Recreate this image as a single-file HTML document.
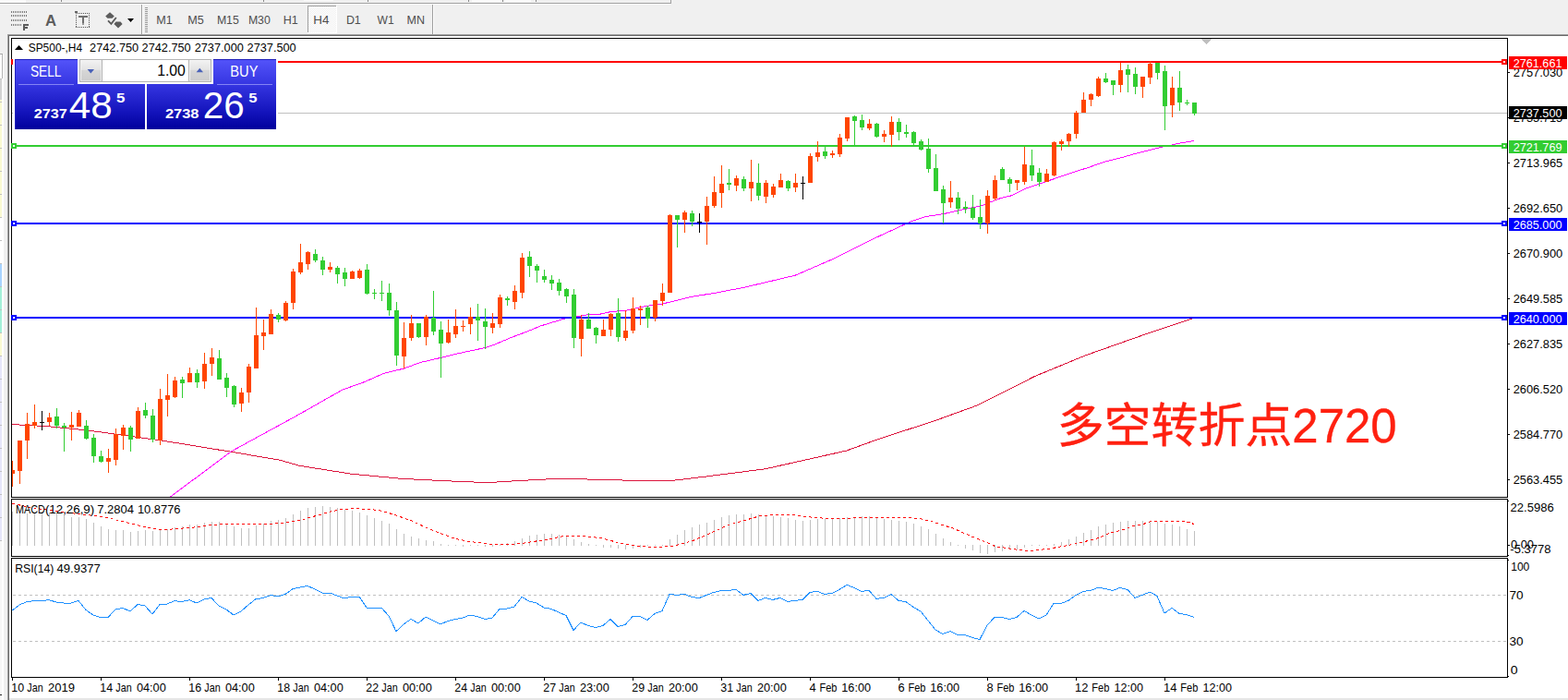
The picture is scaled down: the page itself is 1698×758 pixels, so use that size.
<!DOCTYPE html>
<html><head><meta charset="utf-8"><title>SP500 H4</title>
<style>html,body{margin:0;padding:0;background:#fff;overflow:hidden}svg text{font-family:"Liberation Sans",sans-serif}</style></head>
<body>
<svg width="1698" height="758" viewBox="0 0 1698 758" font-family="&quot;Liberation Sans&quot;, sans-serif" style="display:block">
<rect x="0" y="0" width="1698" height="758" fill="#fff"/>
<g shape-rendering="crispEdges">
<rect x="0" y="0" width="1698" height="37" fill="#f0f0f0"/>
<rect x="0" y="3" width="727" height="1" fill="#a0a0a0"/>
<rect x="0" y="4" width="726" height="1" fill="#fdfdfd"/>
<rect x="726" y="0" width="1" height="3" fill="#a0a0a0"/>
<rect x="0" y="0" width="28" height="3" fill="#fafafa"/>
<rect x="329" y="0" width="32" height="1" fill="#fafafa"/>
<rect x="511" y="0" width="31" height="2" fill="#fafafa"/>
<rect x="547" y="0" width="28" height="2" fill="#fafafa"/>
<rect x="66" y="0" width="1" height="2" fill="#888"/>
<rect x="285" y="0" width="1" height="2" fill="#888"/>
<rect x="398" y="0" width="1" height="2" fill="#888"/>
<rect x="507" y="0" width="1" height="2" fill="#888"/>
<rect x="544" y="0" width="1" height="2" fill="#888"/>
<rect x="580" y="0" width="1" height="2" fill="#888"/>
<rect x="153" y="5" width="1" height="32" fill="#a0a0a0"/>
<rect x="154" y="5" width="1" height="32" fill="#fff"/>
<rect x="468" y="5" width="1" height="32" fill="#a0a0a0"/>
<rect x="469" y="5" width="1" height="32" fill="#fff"/>
<rect x="157" y="8" width="3" height="1" fill="#9a9a9a"/>
<rect x="157" y="10" width="3" height="1" fill="#9a9a9a"/>
<rect x="157" y="12" width="3" height="1" fill="#9a9a9a"/>
<rect x="157" y="14" width="3" height="1" fill="#9a9a9a"/>
<rect x="157" y="16" width="3" height="1" fill="#9a9a9a"/>
<rect x="157" y="18" width="3" height="1" fill="#9a9a9a"/>
<rect x="157" y="20" width="3" height="1" fill="#9a9a9a"/>
<rect x="157" y="22" width="3" height="1" fill="#9a9a9a"/>
<rect x="157" y="24" width="3" height="1" fill="#9a9a9a"/>
<rect x="157" y="26" width="3" height="1" fill="#9a9a9a"/>
<rect x="157" y="28" width="3" height="1" fill="#9a9a9a"/>
<rect x="157" y="30" width="3" height="1" fill="#9a9a9a"/>
<rect x="157" y="32" width="3" height="1" fill="#9a9a9a"/>
<rect x="157" y="34" width="3" height="1" fill="#9a9a9a"/>
<pattern id="dz" width="2" height="2" patternUnits="userSpaceOnUse"><rect width="2" height="2" fill="#fff"/><rect width="1" height="1" fill="#f0f0f0"/><rect x="1" y="1" width="1" height="1" fill="#f0f0f0"/></pattern>
<rect x="333" y="6" width="31" height="29" fill="url(#dz)"/>
<rect x="333" y="6" width="31" height="1" fill="#a0a0a0"/>
<rect x="333" y="6" width="1" height="29" fill="#a0a0a0"/>
<rect x="364" y="6" width="1" height="30" fill="#fff"/>
<rect x="333" y="35" width="32" height="1" fill="#fff"/>
<rect x="0" y="37" width="8" height="721" fill="#f0f0f0"/>
<rect x="8" y="37" width="1690" height="1" fill="#a0a0a0"/>
<rect x="9" y="38" width="1689" height="1" fill="#696969"/>
<rect x="8" y="37" width="1" height="721" fill="#a0a0a0"/>
<rect x="9" y="38" width="1" height="720" fill="#696969"/>
<rect x="2" y="58" width="2" height="700" fill="#fff"/>
<rect x="0" y="59" width="2" height="26" fill="#fdfdfd"/>
<rect x="0" y="85" width="2" height="23" fill="#d3d3d3"/>
<rect x="0" y="108" width="2" height="127" fill="#fafad2"/>
<rect x="0" y="235" width="2" height="50" fill="#ffffff"/>
<rect x="0" y="285" width="2" height="25" fill="#a8d4ff"/>
<rect x="0" y="310" width="2" height="50" fill="#a4f0d8"/>
<rect x="0" y="360" width="2" height="25" fill="#fafad2"/>
<rect x="0" y="385" width="2" height="200" fill="#e6e6fa"/>
<rect x="0" y="585" width="2" height="173" fill="#f7f7f7"/>
<rect x="0" y="85" width="2" height="1" fill="#c0c0c0"/>
<rect x="0" y="110" width="2" height="1" fill="#c0c0c0"/>
<rect x="0" y="135" width="2" height="1" fill="#c0c0c0"/>
<rect x="0" y="160" width="2" height="1" fill="#c0c0c0"/>
<rect x="0" y="185" width="2" height="1" fill="#c0c0c0"/>
<rect x="0" y="210" width="2" height="1" fill="#c0c0c0"/>
<rect x="0" y="235" width="2" height="1" fill="#c0c0c0"/>
<rect x="0" y="260" width="2" height="1" fill="#c0c0c0"/>
<rect x="0" y="285" width="2" height="1" fill="#c0c0c0"/>
<rect x="0" y="310" width="2" height="1" fill="#c0c0c0"/>
<rect x="0" y="335" width="2" height="1" fill="#c0c0c0"/>
<rect x="0" y="360" width="2" height="1" fill="#c0c0c0"/>
<rect x="0" y="385" width="2" height="1" fill="#c0c0c0"/>
<rect x="0" y="410" width="2" height="1" fill="#c0c0c0"/>
<rect x="0" y="435" width="2" height="1" fill="#c0c0c0"/>
<rect x="0" y="460" width="2" height="1" fill="#c0c0c0"/>
<rect x="0" y="485" width="2" height="1" fill="#c0c0c0"/>
<rect x="0" y="510" width="2" height="1" fill="#c0c0c0"/>
<rect x="0" y="535" width="2" height="1" fill="#c0c0c0"/>
<rect x="0" y="560" width="2" height="1" fill="#c0c0c0"/>
<rect x="0" y="585" width="2" height="1" fill="#c0c0c0"/>
<rect x="0" y="58" width="3" height="1" fill="#a8a8a8"/>
<rect x="2" y="59" width="1" height="26" fill="#b4b4b4"/>
<rect x="0" y="752" width="2" height="1" fill="#222"/>
<rect x="10" y="756" width="1688" height="2" fill="#e6e6e6"/>
<rect x="12" y="41" width="1621" height="1" fill="#000"/>
<rect x="12" y="538" width="1621" height="1" fill="#000"/>
<rect x="12" y="41" width="1" height="498" fill="#000"/>
<rect x="1632" y="41" width="1" height="498" fill="#000"/>
<rect x="12" y="540" width="1621" height="1" fill="#000"/>
<rect x="12" y="602" width="1621" height="1" fill="#000"/>
<rect x="12" y="540" width="1" height="63" fill="#000"/>
<rect x="1632" y="540" width="1" height="63" fill="#000"/>
<rect x="12" y="604" width="1621" height="1" fill="#000"/>
<rect x="12" y="733" width="1621" height="1" fill="#000"/>
<rect x="12" y="604" width="1" height="130" fill="#000"/>
<rect x="1632" y="604" width="1" height="130" fill="#000"/>
<rect x="1301" y="42" width="11" height="1" fill="#c0c0c0"/>
<rect x="1302" y="43" width="9" height="1" fill="#c0c0c0"/>
<rect x="1303" y="44" width="7" height="1" fill="#c0c0c0"/>
<rect x="1304" y="45" width="5" height="1" fill="#c0c0c0"/>
<rect x="1305" y="46" width="3" height="1" fill="#c0c0c0"/>
<rect x="1306" y="47" width="1" height="1" fill="#c0c0c0"/>
</g>
<text x="169.3" y="26.3" font-size="12.7" fill="#4e4e4e" textLength="17.5" lengthAdjust="spacingAndGlyphs">M1</text>
<text x="203.3" y="26.3" font-size="12.7" fill="#4e4e4e" textLength="17.5" lengthAdjust="spacingAndGlyphs">M5</text>
<text x="234.9" y="26.3" font-size="12.7" fill="#4e4e4e" textLength="23.9" lengthAdjust="spacingAndGlyphs">M15</text>
<text x="268.9" y="26.3" font-size="12.7" fill="#4e4e4e" textLength="23.9" lengthAdjust="spacingAndGlyphs">M30</text>
<text x="306.8" y="26.3" font-size="12.7" fill="#4e4e4e" textLength="16.0" lengthAdjust="spacingAndGlyphs">H1</text>
<text x="339.3" y="26.3" font-size="12.7" fill="#4e4e4e" textLength="17.1" lengthAdjust="spacingAndGlyphs">H4</text>
<text x="374.9" y="26.3" font-size="12.7" fill="#4e4e4e" textLength="15.9" lengthAdjust="spacingAndGlyphs">D1</text>
<text x="408.6" y="26.3" font-size="12.7" fill="#4e4e4e" textLength="18.1" lengthAdjust="spacingAndGlyphs">W1</text>
<text x="440.5" y="26.3" font-size="12.7" fill="#4e4e4e" textLength="19.5" lengthAdjust="spacingAndGlyphs">MN</text>
<g shape-rendering="crispEdges">
<rect x="12" y="12" width="1" height="2" fill="#7c7c7c"/>
<rect x="14" y="12" width="1" height="2" fill="#7c7c7c"/>
<rect x="16" y="12" width="1" height="2" fill="#7c7c7c"/>
<rect x="18" y="12" width="1" height="2" fill="#7c7c7c"/>
<rect x="20" y="12" width="1" height="2" fill="#7c7c7c"/>
<rect x="22" y="12" width="1" height="2" fill="#7c7c7c"/>
<rect x="24" y="12" width="1" height="2" fill="#7c7c7c"/>
<rect x="26" y="12" width="1" height="2" fill="#7c7c7c"/>
<rect x="28" y="12" width="1" height="2" fill="#7c7c7c"/>
<rect x="12" y="16" width="1" height="2" fill="#7c7c7c"/>
<rect x="14" y="16" width="1" height="2" fill="#7c7c7c"/>
<rect x="16" y="16" width="1" height="2" fill="#7c7c7c"/>
<rect x="18" y="16" width="1" height="2" fill="#7c7c7c"/>
<rect x="20" y="16" width="1" height="2" fill="#7c7c7c"/>
<rect x="22" y="16" width="1" height="2" fill="#7c7c7c"/>
<rect x="24" y="16" width="1" height="2" fill="#7c7c7c"/>
<rect x="26" y="16" width="1" height="2" fill="#7c7c7c"/>
<rect x="28" y="16" width="1" height="2" fill="#7c7c7c"/>
<rect x="12" y="21" width="1" height="2" fill="#7c7c7c"/>
<rect x="14" y="21" width="1" height="2" fill="#7c7c7c"/>
<rect x="16" y="21" width="1" height="2" fill="#7c7c7c"/>
<rect x="18" y="21" width="1" height="2" fill="#7c7c7c"/>
<rect x="20" y="21" width="1" height="2" fill="#7c7c7c"/>
<rect x="22" y="21" width="1" height="2" fill="#7c7c7c"/>
<rect x="24" y="21" width="1" height="2" fill="#7c7c7c"/>
<rect x="26" y="21" width="1" height="2" fill="#7c7c7c"/>
<rect x="28" y="21" width="1" height="2" fill="#7c7c7c"/>
<rect x="12" y="26" width="1" height="2" fill="#7c7c7c"/>
<rect x="14" y="26" width="1" height="2" fill="#7c7c7c"/>
<rect x="16" y="26" width="1" height="2" fill="#7c7c7c"/>
<rect x="18" y="26" width="1" height="2" fill="#7c7c7c"/>
<rect x="20" y="26" width="1" height="2" fill="#7c7c7c"/>
<rect x="22" y="26" width="1" height="2" fill="#7c7c7c"/>
<rect x="25" y="26" width="2" height="7" fill="#5c5c5c"/>
<rect x="25" y="26" width="6" height="2" fill="#5c5c5c"/>
<rect x="25" y="29" width="5" height="2" fill="#5c5c5c"/>
</g>
<text x="49.0" y="27.6" font-size="15.6" fill="#5c5c5c" textLength="12.1" lengthAdjust="spacingAndGlyphs" font-weight="bold">A</text>
<g shape-rendering="crispEdges">
<rect x="82" y="14" width="1" height="1" fill="#555"/>
<rect x="82" y="29" width="1" height="1" fill="#555"/>
<rect x="84" y="14" width="1" height="1" fill="#555"/>
<rect x="84" y="29" width="1" height="1" fill="#555"/>
<rect x="86" y="14" width="1" height="1" fill="#555"/>
<rect x="86" y="29" width="1" height="1" fill="#555"/>
<rect x="88" y="14" width="1" height="1" fill="#555"/>
<rect x="88" y="29" width="1" height="1" fill="#555"/>
<rect x="90" y="14" width="1" height="1" fill="#555"/>
<rect x="90" y="29" width="1" height="1" fill="#555"/>
<rect x="92" y="14" width="1" height="1" fill="#555"/>
<rect x="92" y="29" width="1" height="1" fill="#555"/>
<rect x="94" y="14" width="1" height="1" fill="#555"/>
<rect x="94" y="29" width="1" height="1" fill="#555"/>
<rect x="96" y="14" width="1" height="1" fill="#555"/>
<rect x="96" y="29" width="1" height="1" fill="#555"/>
<rect x="82" y="14" width="1" height="1" fill="#555"/>
<rect x="96" y="14" width="1" height="1" fill="#555"/>
<rect x="82" y="16" width="1" height="1" fill="#555"/>
<rect x="96" y="16" width="1" height="1" fill="#555"/>
<rect x="82" y="18" width="1" height="1" fill="#555"/>
<rect x="96" y="18" width="1" height="1" fill="#555"/>
<rect x="82" y="20" width="1" height="1" fill="#555"/>
<rect x="96" y="20" width="1" height="1" fill="#555"/>
<rect x="82" y="22" width="1" height="1" fill="#555"/>
<rect x="96" y="22" width="1" height="1" fill="#555"/>
<rect x="82" y="24" width="1" height="1" fill="#555"/>
<rect x="96" y="24" width="1" height="1" fill="#555"/>
<rect x="82" y="26" width="1" height="1" fill="#555"/>
<rect x="96" y="26" width="1" height="1" fill="#555"/>
<rect x="82" y="28" width="1" height="1" fill="#555"/>
<rect x="96" y="28" width="1" height="1" fill="#555"/>
<rect x="85" y="17" width="10" height="2" fill="#707070"/>
<rect x="89" y="17" width="2" height="8" fill="#707070"/>
<rect x="89" y="25" width="2" height="2" fill="#9a9a9a"/>
<rect x="81" y="12" width="3" height="2" fill="#666"/>
</g>
<path d="M119 13.2 L123.8 17.6 L121.6 19.8 L116.4 19.8 L114.2 17.6 Z M128 30.4 L123.4 26 L125.5 23.6 L130.5 23.6 L132.6 26 Z" fill="#5c5c5c"/>
<path d="M117 22.4 L120.4 25.8 L125.8 19" fill="none" stroke="#5c5c5c" stroke-width="1.9"/>
<path d="M138 20 L145 20 L141.5 24 Z" fill="#000"/>
<clipPath id="cm"><rect x="13" y="42" width="1619" height="496"/></clipPath>
<g clip-path="url(#cm)">
<path d="M13.0 459.6 L50.0 461.5 L95.0 466.0 L177.0 477.3 L250.0 489.2 L303.0 498.2 L324.2 504.3 L379.9 513.1 L435.5 518.4 L488.5 521.0 L515.0 522.1 L536.2 522.1 L562.7 520.5 L602.5 518.4 L658.2 519.4 L700.0 521.0 L726.5 520.6 L763.0 516.2 L828.7 507.8 L916.4 488.1 L952.9 474.9 L1011.3 456.0 L1058.7 438.8 L1120.8 407.4 L1175.6 384.8 L1237.7 362.9 L1292.4 344.6" fill="none" stroke="#dc143c" stroke-width="1" shape-rendering="crispEdges"/>
<path d="M184.5 538.0 L250.0 489.2 L258.8 484.2 L313.0 454.7 L321.6 450.0 L371.0 422.0 L395.0 413.5 L414.8 404.6 L437.6 399.0 L454.4 392.7 L477.1 387.4 L497.9 382.4 L525.6 376.5 L533.6 373.9 L553.4 365.6 L573.1 358.1 L585.0 353.1 L610.8 345.2 L628.6 342.2 L637.5 340.6 L648.7 340.4 L661.4 337.6 L680.4 335.9 L698.3 331.6 L717.3 329.0 L730.0 326.0 L751.0 320.9 L772.2 317.7 L806.0 311.2 L861.1 298.2 L905.0 279.2 L943.2 259.8 L971.9 246.6 L985.7 240.2 L1001.6 234.7 L1021.4 231.7 L1043.1 226.8 L1062.9 222.8 L1082.7 214.9 L1095.0 211.9 L1112.0 203.6 L1134.1 196.2 L1158.1 187.9 L1178.5 181.4 L1196.9 175.0 L1215.4 170.4 L1232.0 165.7 L1259.7 158.9 L1278.2 155.0 L1293.0 152.4" fill="none" stroke="#ff00ff" stroke-width="1" shape-rendering="crispEdges"/>
<g shape-rendering="crispEdges">
<rect x="13" y="122" width="1619" height="1" fill="#c0c0c0"/>
<rect x="13" y="66" width="1619" height="2" fill="#ff0000"/>
<rect x="13" y="157" width="1619" height="2" fill="#32cd32"/>
<rect x="13" y="241" width="1619" height="2" fill="#0000ff"/>
<rect x="13" y="343" width="1619" height="2" fill="#0000ff"/>
<rect x="13" y="499" width="1" height="28" fill="#ff4500"/>
<rect x="11" y="509" width="5" height="4" fill="#ff4500"/>
<rect x="21" y="477" width="1" height="47" fill="#ff4500"/>
<rect x="19" y="477" width="5" height="33" fill="#ff4500"/>
<rect x="29" y="447" width="1" height="50" fill="#ff4500"/>
<rect x="27" y="459" width="5" height="18" fill="#ff4500"/>
<rect x="37" y="438" width="1" height="26" fill="#ff4500"/>
<rect x="35" y="457" width="5" height="4" fill="#ff4500"/>
<rect x="45" y="445" width="1" height="21" fill="#000"/>
<rect x="43" y="457" width="5" height="1" fill="#000"/>
<rect x="53" y="447" width="1" height="14" fill="#ff4500"/>
<rect x="51" y="452" width="5" height="5" fill="#ff4500"/>
<rect x="61" y="442" width="1" height="22" fill="#32cd32"/>
<rect x="59" y="451" width="5" height="10" fill="#32cd32"/>
<rect x="69" y="458" width="1" height="31" fill="#32cd32"/>
<rect x="67" y="461" width="5" height="2" fill="#32cd32"/>
<rect x="77" y="446" width="1" height="31" fill="#ff4500"/>
<rect x="75" y="460" width="5" height="3" fill="#ff4500"/>
<rect x="85" y="444" width="1" height="18" fill="#ff4500"/>
<rect x="83" y="447" width="5" height="15" fill="#ff4500"/>
<rect x="93" y="455" width="1" height="21" fill="#32cd32"/>
<rect x="91" y="461" width="5" height="14" fill="#32cd32"/>
<rect x="101" y="470" width="1" height="31" fill="#32cd32"/>
<rect x="99" y="474" width="5" height="20" fill="#32cd32"/>
<rect x="109" y="488" width="1" height="13" fill="#32cd32"/>
<rect x="107" y="494" width="5" height="6" fill="#32cd32"/>
<rect x="117" y="486" width="1" height="26" fill="#ff4500"/>
<rect x="115" y="496" width="5" height="4" fill="#ff4500"/>
<rect x="125" y="464" width="1" height="40" fill="#ff4500"/>
<rect x="123" y="470" width="5" height="28" fill="#ff4500"/>
<rect x="133" y="460" width="1" height="27" fill="#ff4500"/>
<rect x="131" y="463" width="5" height="9" fill="#ff4500"/>
<rect x="141" y="461" width="1" height="28" fill="#32cd32"/>
<rect x="139" y="463" width="5" height="13" fill="#32cd32"/>
<rect x="149" y="441" width="1" height="34" fill="#ff4500"/>
<rect x="147" y="445" width="5" height="30" fill="#ff4500"/>
<rect x="157" y="436" width="1" height="17" fill="#32cd32"/>
<rect x="155" y="444" width="5" height="6" fill="#32cd32"/>
<rect x="165" y="443" width="1" height="36" fill="#32cd32"/>
<rect x="163" y="450" width="5" height="26" fill="#32cd32"/>
<rect x="173" y="421" width="1" height="61" fill="#ff4500"/>
<rect x="171" y="432" width="5" height="45" fill="#ff4500"/>
<rect x="181" y="405" width="1" height="46" fill="#ff4500"/>
<rect x="179" y="428" width="5" height="5" fill="#ff4500"/>
<rect x="189" y="408" width="1" height="23" fill="#ff4500"/>
<rect x="187" y="412" width="5" height="18" fill="#ff4500"/>
<rect x="197" y="408" width="1" height="23" fill="#32cd32"/>
<rect x="195" y="411" width="5" height="4" fill="#32cd32"/>
<rect x="205" y="398" width="1" height="16" fill="#ff4500"/>
<rect x="203" y="404" width="5" height="10" fill="#ff4500"/>
<rect x="213" y="400" width="1" height="20" fill="#32cd32"/>
<rect x="211" y="404" width="5" height="10" fill="#32cd32"/>
<rect x="221" y="382" width="1" height="39" fill="#ff4500"/>
<rect x="219" y="394" width="5" height="19" fill="#ff4500"/>
<rect x="229" y="377" width="1" height="30" fill="#ff4500"/>
<rect x="227" y="387" width="5" height="7" fill="#ff4500"/>
<rect x="237" y="379" width="1" height="32" fill="#32cd32"/>
<rect x="235" y="388" width="5" height="23" fill="#32cd32"/>
<rect x="245" y="404" width="1" height="26" fill="#32cd32"/>
<rect x="243" y="409" width="5" height="11" fill="#32cd32"/>
<rect x="253" y="417" width="1" height="24" fill="#32cd32"/>
<rect x="251" y="418" width="5" height="20" fill="#32cd32"/>
<rect x="261" y="420" width="1" height="26" fill="#ff4500"/>
<rect x="259" y="425" width="5" height="12" fill="#ff4500"/>
<rect x="269" y="394" width="1" height="42" fill="#ff4500"/>
<rect x="267" y="397" width="5" height="28" fill="#ff4500"/>
<rect x="277" y="333" width="1" height="66" fill="#ff4500"/>
<rect x="275" y="363" width="5" height="36" fill="#ff4500"/>
<rect x="285" y="346" width="1" height="33" fill="#ff4500"/>
<rect x="283" y="360" width="5" height="4" fill="#ff4500"/>
<rect x="293" y="335" width="1" height="27" fill="#ff4500"/>
<rect x="291" y="340" width="5" height="22" fill="#ff4500"/>
<rect x="301" y="339" width="1" height="10" fill="#32cd32"/>
<rect x="299" y="341" width="5" height="5" fill="#32cd32"/>
<rect x="309" y="326" width="1" height="22" fill="#ff4500"/>
<rect x="307" y="328" width="5" height="19" fill="#ff4500"/>
<rect x="317" y="291" width="1" height="44" fill="#ff4500"/>
<rect x="315" y="294" width="5" height="34" fill="#ff4500"/>
<rect x="325" y="264" width="1" height="33" fill="#ff4500"/>
<rect x="323" y="284" width="5" height="11" fill="#ff4500"/>
<rect x="333" y="272" width="1" height="20" fill="#ff4500"/>
<rect x="331" y="273" width="5" height="13" fill="#ff4500"/>
<rect x="341" y="270" width="1" height="14" fill="#32cd32"/>
<rect x="339" y="275" width="5" height="7" fill="#32cd32"/>
<rect x="349" y="278" width="1" height="20" fill="#32cd32"/>
<rect x="347" y="282" width="5" height="10" fill="#32cd32"/>
<rect x="357" y="284" width="1" height="11" fill="#ff4500"/>
<rect x="355" y="289" width="5" height="3" fill="#ff4500"/>
<rect x="365" y="288" width="1" height="19" fill="#32cd32"/>
<rect x="363" y="290" width="5" height="7" fill="#32cd32"/>
<rect x="373" y="290" width="1" height="20" fill="#32cd32"/>
<rect x="371" y="295" width="5" height="7" fill="#32cd32"/>
<rect x="381" y="293" width="1" height="9" fill="#ff4500"/>
<rect x="379" y="294" width="5" height="8" fill="#ff4500"/>
<rect x="389" y="291" width="1" height="11" fill="#ff4500"/>
<rect x="387" y="293" width="5" height="8" fill="#ff4500"/>
<rect x="397" y="286" width="1" height="33" fill="#32cd32"/>
<rect x="395" y="292" width="5" height="26" fill="#32cd32"/>
<rect x="405" y="313" width="1" height="11" fill="#32cd32"/>
<rect x="403" y="317" width="5" height="1" fill="#32cd32"/>
<rect x="413" y="304" width="1" height="22" fill="#32cd32"/>
<rect x="411" y="317" width="5" height="1" fill="#32cd32"/>
<rect x="421" y="307" width="1" height="35" fill="#32cd32"/>
<rect x="419" y="317" width="5" height="19" fill="#32cd32"/>
<rect x="429" y="327" width="1" height="69" fill="#32cd32"/>
<rect x="427" y="336" width="5" height="49" fill="#32cd32"/>
<rect x="437" y="349" width="1" height="50" fill="#ff4500"/>
<rect x="435" y="366" width="5" height="20" fill="#ff4500"/>
<rect x="445" y="341" width="1" height="28" fill="#ff4500"/>
<rect x="443" y="350" width="5" height="16" fill="#ff4500"/>
<rect x="453" y="350" width="1" height="16" fill="#32cd32"/>
<rect x="451" y="350" width="5" height="15" fill="#32cd32"/>
<rect x="461" y="341" width="1" height="33" fill="#ff4500"/>
<rect x="459" y="343" width="5" height="22" fill="#ff4500"/>
<rect x="469" y="315" width="1" height="48" fill="#32cd32"/>
<rect x="467" y="344" width="5" height="15" fill="#32cd32"/>
<rect x="477" y="348" width="1" height="61" fill="#32cd32"/>
<rect x="475" y="357" width="5" height="15" fill="#32cd32"/>
<rect x="485" y="346" width="1" height="26" fill="#ff4500"/>
<rect x="483" y="360" width="5" height="11" fill="#ff4500"/>
<rect x="493" y="335" width="1" height="31" fill="#ff4500"/>
<rect x="491" y="353" width="5" height="9" fill="#ff4500"/>
<rect x="501" y="347" width="1" height="12" fill="#ff4500"/>
<rect x="499" y="353" width="5" height="1" fill="#ff4500"/>
<rect x="509" y="333" width="1" height="29" fill="#ff4500"/>
<rect x="507" y="343" width="5" height="8" fill="#ff4500"/>
<rect x="517" y="329" width="1" height="40" fill="#32cd32"/>
<rect x="515" y="343" width="5" height="4" fill="#32cd32"/>
<rect x="525" y="334" width="1" height="44" fill="#32cd32"/>
<rect x="523" y="348" width="5" height="6" fill="#32cd32"/>
<rect x="533" y="339" width="1" height="22" fill="#ff4500"/>
<rect x="531" y="350" width="5" height="5" fill="#ff4500"/>
<rect x="541" y="319" width="1" height="36" fill="#ff4500"/>
<rect x="539" y="322" width="5" height="29" fill="#ff4500"/>
<rect x="549" y="321" width="1" height="10" fill="#32cd32"/>
<rect x="547" y="323" width="5" height="2" fill="#32cd32"/>
<rect x="557" y="309" width="1" height="26" fill="#ff4500"/>
<rect x="555" y="315" width="5" height="12" fill="#ff4500"/>
<rect x="565" y="274" width="1" height="49" fill="#ff4500"/>
<rect x="563" y="279" width="5" height="38" fill="#ff4500"/>
<rect x="573" y="272" width="1" height="28" fill="#32cd32"/>
<rect x="571" y="278" width="5" height="10" fill="#32cd32"/>
<rect x="581" y="286" width="1" height="20" fill="#32cd32"/>
<rect x="579" y="288" width="5" height="5" fill="#32cd32"/>
<rect x="589" y="292" width="1" height="14" fill="#32cd32"/>
<rect x="587" y="299" width="5" height="4" fill="#32cd32"/>
<rect x="597" y="298" width="1" height="16" fill="#32cd32"/>
<rect x="595" y="303" width="5" height="4" fill="#32cd32"/>
<rect x="605" y="302" width="1" height="18" fill="#32cd32"/>
<rect x="603" y="306" width="5" height="9" fill="#32cd32"/>
<rect x="613" y="312" width="1" height="16" fill="#32cd32"/>
<rect x="611" y="313" width="5" height="8" fill="#32cd32"/>
<rect x="621" y="313" width="1" height="64" fill="#32cd32"/>
<rect x="619" y="319" width="5" height="47" fill="#32cd32"/>
<rect x="629" y="341" width="1" height="45" fill="#ff4500"/>
<rect x="627" y="346" width="5" height="21" fill="#ff4500"/>
<rect x="637" y="339" width="1" height="17" fill="#32cd32"/>
<rect x="635" y="346" width="5" height="10" fill="#32cd32"/>
<rect x="645" y="354" width="1" height="18" fill="#32cd32"/>
<rect x="643" y="355" width="5" height="8" fill="#32cd32"/>
<rect x="653" y="346" width="1" height="18" fill="#ff4500"/>
<rect x="651" y="357" width="5" height="7" fill="#ff4500"/>
<rect x="661" y="339" width="1" height="25" fill="#ff4500"/>
<rect x="659" y="340" width="5" height="17" fill="#ff4500"/>
<rect x="669" y="323" width="1" height="47" fill="#32cd32"/>
<rect x="667" y="339" width="5" height="26" fill="#32cd32"/>
<rect x="677" y="336" width="1" height="33" fill="#ff4500"/>
<rect x="675" y="358" width="5" height="8" fill="#ff4500"/>
<rect x="685" y="322" width="1" height="39" fill="#ff4500"/>
<rect x="683" y="334" width="5" height="24" fill="#ff4500"/>
<rect x="693" y="331" width="1" height="21" fill="#ff4500"/>
<rect x="691" y="334" width="5" height="2" fill="#ff4500"/>
<rect x="701" y="331" width="1" height="24" fill="#32cd32"/>
<rect x="699" y="333" width="5" height="12" fill="#32cd32"/>
<rect x="709" y="325" width="1" height="23" fill="#ff4500"/>
<rect x="707" y="325" width="5" height="19" fill="#ff4500"/>
<rect x="717" y="307" width="1" height="24" fill="#ff4500"/>
<rect x="715" y="317" width="5" height="9" fill="#ff4500"/>
<rect x="725" y="232" width="1" height="85" fill="#ff4500"/>
<rect x="723" y="233" width="5" height="84" fill="#ff4500"/>
<rect x="733" y="233" width="1" height="35" fill="#32cd32"/>
<rect x="731" y="233" width="5" height="5" fill="#32cd32"/>
<rect x="741" y="228" width="1" height="24" fill="#ff4500"/>
<rect x="739" y="230" width="5" height="8" fill="#ff4500"/>
<rect x="749" y="228" width="1" height="17" fill="#32cd32"/>
<rect x="747" y="231" width="5" height="9" fill="#32cd32"/>
<rect x="757" y="231" width="1" height="21" fill="#000"/>
<rect x="755" y="240" width="5" height="1" fill="#000"/>
<rect x="765" y="213" width="1" height="52" fill="#ff4500"/>
<rect x="763" y="223" width="5" height="17" fill="#ff4500"/>
<rect x="773" y="191" width="1" height="34" fill="#ff4500"/>
<rect x="771" y="208" width="5" height="15" fill="#ff4500"/>
<rect x="781" y="179" width="1" height="46" fill="#ff4500"/>
<rect x="779" y="199" width="5" height="10" fill="#ff4500"/>
<rect x="789" y="183" width="1" height="23" fill="#32cd32"/>
<rect x="787" y="198" width="5" height="2" fill="#32cd32"/>
<rect x="797" y="190" width="1" height="17" fill="#ff4500"/>
<rect x="795" y="193" width="5" height="8" fill="#ff4500"/>
<rect x="805" y="191" width="1" height="16" fill="#32cd32"/>
<rect x="803" y="194" width="5" height="10" fill="#32cd32"/>
<rect x="813" y="173" width="1" height="45" fill="#ff4500"/>
<rect x="811" y="197" width="5" height="7" fill="#ff4500"/>
<rect x="821" y="177" width="1" height="40" fill="#32cd32"/>
<rect x="819" y="198" width="5" height="14" fill="#32cd32"/>
<rect x="829" y="195" width="1" height="25" fill="#ff4500"/>
<rect x="827" y="198" width="5" height="15" fill="#ff4500"/>
<rect x="837" y="199" width="1" height="15" fill="#ff4500"/>
<rect x="835" y="202" width="5" height="9" fill="#ff4500"/>
<rect x="845" y="188" width="1" height="15" fill="#ff4500"/>
<rect x="843" y="195" width="5" height="8" fill="#ff4500"/>
<rect x="853" y="195" width="1" height="12" fill="#32cd32"/>
<rect x="851" y="196" width="5" height="8" fill="#32cd32"/>
<rect x="861" y="188" width="1" height="20" fill="#ff4500"/>
<rect x="859" y="198" width="5" height="5" fill="#ff4500"/>
<rect x="869" y="191" width="1" height="25" fill="#000"/>
<rect x="867" y="198" width="5" height="1" fill="#000"/>
<rect x="877" y="166" width="1" height="32" fill="#ff4500"/>
<rect x="875" y="169" width="5" height="29" fill="#ff4500"/>
<rect x="885" y="153" width="1" height="22" fill="#ff4500"/>
<rect x="883" y="165" width="5" height="5" fill="#ff4500"/>
<rect x="893" y="159" width="1" height="13" fill="#32cd32"/>
<rect x="891" y="164" width="5" height="5" fill="#32cd32"/>
<rect x="901" y="163" width="1" height="8" fill="#ff4500"/>
<rect x="899" y="166" width="5" height="2" fill="#ff4500"/>
<rect x="909" y="145" width="1" height="25" fill="#ff4500"/>
<rect x="907" y="149" width="5" height="18" fill="#ff4500"/>
<rect x="917" y="127" width="1" height="26" fill="#ff4500"/>
<rect x="915" y="127" width="5" height="23" fill="#ff4500"/>
<rect x="925" y="125" width="1" height="33" fill="#32cd32"/>
<rect x="923" y="126" width="5" height="5" fill="#32cd32"/>
<rect x="933" y="124" width="1" height="17" fill="#32cd32"/>
<rect x="931" y="130" width="5" height="8" fill="#32cd32"/>
<rect x="941" y="129" width="1" height="12" fill="#ff4500"/>
<rect x="939" y="134" width="5" height="5" fill="#ff4500"/>
<rect x="949" y="133" width="1" height="16" fill="#32cd32"/>
<rect x="947" y="134" width="5" height="14" fill="#32cd32"/>
<rect x="957" y="141" width="1" height="13" fill="#ff4500"/>
<rect x="955" y="145" width="5" height="3" fill="#ff4500"/>
<rect x="965" y="126" width="1" height="33" fill="#ff4500"/>
<rect x="963" y="132" width="5" height="14" fill="#ff4500"/>
<rect x="973" y="128" width="1" height="24" fill="#32cd32"/>
<rect x="971" y="132" width="5" height="11" fill="#32cd32"/>
<rect x="981" y="135" width="1" height="14" fill="#32cd32"/>
<rect x="979" y="143" width="5" height="2" fill="#32cd32"/>
<rect x="989" y="142" width="1" height="15" fill="#32cd32"/>
<rect x="987" y="143" width="5" height="12" fill="#32cd32"/>
<rect x="997" y="151" width="1" height="12" fill="#32cd32"/>
<rect x="995" y="153" width="5" height="9" fill="#32cd32"/>
<rect x="1005" y="150" width="1" height="37" fill="#32cd32"/>
<rect x="1003" y="161" width="5" height="22" fill="#32cd32"/>
<rect x="1013" y="167" width="1" height="40" fill="#32cd32"/>
<rect x="1011" y="182" width="5" height="25" fill="#32cd32"/>
<rect x="1021" y="201" width="1" height="41" fill="#32cd32"/>
<rect x="1019" y="205" width="5" height="15" fill="#32cd32"/>
<rect x="1029" y="196" width="1" height="29" fill="#ff4500"/>
<rect x="1027" y="214" width="5" height="5" fill="#ff4500"/>
<rect x="1037" y="208" width="1" height="24" fill="#32cd32"/>
<rect x="1035" y="214" width="5" height="12" fill="#32cd32"/>
<rect x="1045" y="218" width="1" height="13" fill="#32cd32"/>
<rect x="1043" y="224" width="5" height="2" fill="#32cd32"/>
<rect x="1053" y="211" width="1" height="27" fill="#32cd32"/>
<rect x="1051" y="225" width="5" height="11" fill="#32cd32"/>
<rect x="1061" y="216" width="1" height="32" fill="#32cd32"/>
<rect x="1059" y="235" width="5" height="7" fill="#32cd32"/>
<rect x="1069" y="206" width="1" height="47" fill="#ff4500"/>
<rect x="1067" y="212" width="5" height="30" fill="#ff4500"/>
<rect x="1077" y="190" width="1" height="27" fill="#ff4500"/>
<rect x="1075" y="195" width="5" height="20" fill="#ff4500"/>
<rect x="1085" y="181" width="1" height="14" fill="#32cd32"/>
<rect x="1083" y="183" width="5" height="12" fill="#32cd32"/>
<rect x="1093" y="192" width="1" height="16" fill="#32cd32"/>
<rect x="1091" y="194" width="5" height="5" fill="#32cd32"/>
<rect x="1101" y="195" width="1" height="11" fill="#ff4500"/>
<rect x="1099" y="195" width="5" height="3" fill="#ff4500"/>
<rect x="1109" y="159" width="1" height="41" fill="#ff4500"/>
<rect x="1107" y="178" width="5" height="19" fill="#ff4500"/>
<rect x="1117" y="162" width="1" height="34" fill="#32cd32"/>
<rect x="1115" y="179" width="5" height="11" fill="#32cd32"/>
<rect x="1125" y="182" width="1" height="20" fill="#32cd32"/>
<rect x="1123" y="187" width="5" height="10" fill="#32cd32"/>
<rect x="1133" y="183" width="1" height="14" fill="#ff4500"/>
<rect x="1131" y="188" width="5" height="9" fill="#ff4500"/>
<rect x="1141" y="153" width="1" height="38" fill="#ff4500"/>
<rect x="1139" y="154" width="5" height="36" fill="#ff4500"/>
<rect x="1149" y="151" width="1" height="12" fill="#ff4500"/>
<rect x="1147" y="153" width="5" height="3" fill="#ff4500"/>
<rect x="1157" y="144" width="1" height="15" fill="#ff4500"/>
<rect x="1155" y="145" width="5" height="8" fill="#ff4500"/>
<rect x="1165" y="120" width="1" height="30" fill="#ff4500"/>
<rect x="1163" y="122" width="5" height="23" fill="#ff4500"/>
<rect x="1173" y="100" width="1" height="22" fill="#ff4500"/>
<rect x="1171" y="108" width="5" height="14" fill="#ff4500"/>
<rect x="1181" y="101" width="1" height="14" fill="#ff4500"/>
<rect x="1179" y="102" width="5" height="6" fill="#ff4500"/>
<rect x="1189" y="83" width="1" height="22" fill="#ff4500"/>
<rect x="1187" y="85" width="5" height="19" fill="#ff4500"/>
<rect x="1197" y="79" width="1" height="11" fill="#32cd32"/>
<rect x="1195" y="85" width="5" height="4" fill="#32cd32"/>
<rect x="1205" y="87" width="1" height="16" fill="#32cd32"/>
<rect x="1203" y="87" width="5" height="5" fill="#32cd32"/>
<rect x="1213" y="68" width="1" height="32" fill="#ff4500"/>
<rect x="1211" y="76" width="5" height="16" fill="#ff4500"/>
<rect x="1221" y="70" width="1" height="30" fill="#32cd32"/>
<rect x="1219" y="75" width="5" height="6" fill="#32cd32"/>
<rect x="1229" y="73" width="1" height="29" fill="#32cd32"/>
<rect x="1227" y="80" width="5" height="14" fill="#32cd32"/>
<rect x="1237" y="83" width="1" height="23" fill="#ff4500"/>
<rect x="1235" y="83" width="5" height="11" fill="#ff4500"/>
<rect x="1245" y="66" width="1" height="25" fill="#ff4500"/>
<rect x="1243" y="69" width="5" height="15" fill="#ff4500"/>
<rect x="1253" y="68" width="1" height="18" fill="#32cd32"/>
<rect x="1251" y="68" width="5" height="11" fill="#32cd32"/>
<rect x="1261" y="71" width="1" height="70" fill="#32cd32"/>
<rect x="1259" y="77" width="5" height="38" fill="#32cd32"/>
<rect x="1269" y="83" width="1" height="44" fill="#ff4500"/>
<rect x="1267" y="95" width="5" height="19" fill="#ff4500"/>
<rect x="1277" y="77" width="1" height="43" fill="#32cd32"/>
<rect x="1275" y="95" width="5" height="16" fill="#32cd32"/>
<rect x="1285" y="108" width="1" height="6" fill="#32cd32"/>
<rect x="1283" y="111" width="5" height="1" fill="#32cd32"/>
<rect x="1293" y="111" width="1" height="14" fill="#32cd32"/>
<rect x="1291" y="111" width="5" height="12" fill="#32cd32"/>
</g></g>
<g shape-rendering="crispEdges">
<rect x="1626" y="64" width="6" height="6" fill="#ff0000"/>
<rect x="1628" y="66" width="2" height="2" fill="#fff"/>
<rect x="1626" y="155" width="6" height="6" fill="#32cd32"/>
<rect x="1628" y="157" width="2" height="2" fill="#fff"/>
<rect x="12" y="155" width="6" height="6" fill="#32cd32"/>
<rect x="14" y="157" width="2" height="2" fill="#fff"/>
<rect x="1626" y="239" width="6" height="6" fill="#0000ff"/>
<rect x="1628" y="241" width="2" height="2" fill="#fff"/>
<rect x="12" y="239" width="6" height="6" fill="#0000ff"/>
<rect x="14" y="241" width="2" height="2" fill="#fff"/>
<rect x="1626" y="341" width="6" height="6" fill="#0000ff"/>
<rect x="1628" y="343" width="2" height="2" fill="#fff"/>
<rect x="12" y="341" width="6" height="6" fill="#0000ff"/>
<rect x="14" y="343" width="2" height="2" fill="#fff"/>
<rect x="12" y="64" width="2" height="6" fill="#ff0000"/>
<rect x="1633" y="78" width="2" height="1" fill="#000"/>
<rect x="1633" y="127" width="2" height="1" fill="#000"/>
<rect x="1633" y="176" width="2" height="1" fill="#000"/>
<rect x="1633" y="225" width="2" height="1" fill="#000"/>
<rect x="1633" y="274" width="2" height="1" fill="#000"/>
<rect x="1633" y="323" width="2" height="1" fill="#000"/>
<rect x="1633" y="372" width="2" height="1" fill="#000"/>
<rect x="1633" y="421" width="2" height="1" fill="#000"/>
<rect x="1633" y="470" width="2" height="1" fill="#000"/>
<rect x="1633" y="519" width="2" height="1" fill="#000"/>
</g>
<text x="1638.7" y="83" font-size="12.9" fill="#000" textLength="53.5" lengthAdjust="spacingAndGlyphs">2757.030</text>
<text x="1638.7" y="132" font-size="12.9" fill="#000" textLength="53.5" lengthAdjust="spacingAndGlyphs">2735.715</text>
<text x="1638.7" y="181" font-size="12.9" fill="#000" textLength="53.5" lengthAdjust="spacingAndGlyphs">2713.965</text>
<text x="1638.7" y="230" font-size="12.9" fill="#000" textLength="53.5" lengthAdjust="spacingAndGlyphs">2692.650</text>
<text x="1638.7" y="279" font-size="12.9" fill="#000" textLength="53.5" lengthAdjust="spacingAndGlyphs">2670.900</text>
<text x="1638.7" y="328" font-size="12.9" fill="#000" textLength="53.5" lengthAdjust="spacingAndGlyphs">2649.585</text>
<text x="1638.7" y="377" font-size="12.9" fill="#000" textLength="53.5" lengthAdjust="spacingAndGlyphs">2627.835</text>
<text x="1638.7" y="426" font-size="12.9" fill="#000" textLength="53.5" lengthAdjust="spacingAndGlyphs">2606.520</text>
<text x="1638.7" y="475" font-size="12.9" fill="#000" textLength="53.5" lengthAdjust="spacingAndGlyphs">2584.770</text>
<text x="1638.7" y="524" font-size="12.9" fill="#000" textLength="53.5" lengthAdjust="spacingAndGlyphs">2563.455</text>
<g shape-rendering="crispEdges">
<rect x="1634" y="61" width="63" height="14" fill="#ff0000"/>
<rect x="1634" y="115" width="63" height="14" fill="#000"/>
<rect x="1634" y="152" width="63" height="14" fill="#32cd32"/>
<rect x="1634" y="236" width="63" height="14" fill="#0000ff"/>
<rect x="1634" y="338" width="63" height="14" fill="#0000ff"/>
</g>
<text x="1638.7" y="73" font-size="12.9" fill="#fff" textLength="52.8" lengthAdjust="spacingAndGlyphs">2761.661</text>
<text x="1638.7" y="127" font-size="12.9" fill="#fff" textLength="52.8" lengthAdjust="spacingAndGlyphs">2737.500</text>
<text x="1638.7" y="164" font-size="12.9" fill="#fff" textLength="52.8" lengthAdjust="spacingAndGlyphs">2721.769</text>
<text x="1638.7" y="248" font-size="12.9" fill="#fff" textLength="52.8" lengthAdjust="spacingAndGlyphs">2685.000</text>
<text x="1638.7" y="350" font-size="12.9" fill="#fff" textLength="52.8" lengthAdjust="spacingAndGlyphs">2640.000</text>
<path d="M16 54 L25 54 L20.5 49 Z" fill="#000"/>
<text x="30.7" y="56" font-size="12.9" fill="#000" textLength="58.4" lengthAdjust="spacingAndGlyphs">SP500-,H4</text>
<text x="97.1" y="56" font-size="12.9" fill="#000" textLength="53.1" lengthAdjust="spacingAndGlyphs">2742.750</text>
<text x="153.6" y="56" font-size="12.9" fill="#000" textLength="53.1" lengthAdjust="spacingAndGlyphs">2742.750</text>
<text x="210.7" y="56" font-size="12.9" fill="#000" textLength="53.1" lengthAdjust="spacingAndGlyphs">2737.000</text>
<text x="267.6" y="56" font-size="12.9" fill="#000" textLength="53.1" lengthAdjust="spacingAndGlyphs">2737.500</text>
<defs>
<linearGradient id="gb" gradientUnits="userSpaceOnUse" x1="0" y1="64" x2="0" y2="140"><stop offset="0" stop-color="#5454fa"/><stop offset="0.35" stop-color="#3636e2"/><stop offset="0.75" stop-color="#1414bc"/><stop offset="1" stop-color="#00009c"/></linearGradient>
<linearGradient id="gg" x1="0" y1="0" x2="0" y2="1"><stop offset="0" stop-color="#f2f2f2"/><stop offset="0.45" stop-color="#e4e4e4"/><stop offset="0.5" stop-color="#d6d6d6"/><stop offset="1" stop-color="#cccccc"/></linearGradient>
</defs>
<g shape-rendering="crispEdges">
<rect x="14" y="63" width="287" height="78" fill="#fff"/>
<rect x="16" y="64" width="68" height="27" fill="url(#gb)"/>
<rect x="16" y="91" width="141" height="49" fill="url(#gb)"/>
<rect x="231" y="64" width="68" height="27" fill="url(#gb)"/>
<rect x="159" y="91" width="140" height="49" fill="url(#gb)"/>
<rect x="16" y="64" width="68" height="1" fill="#2020b8"/>
<rect x="231" y="64" width="68" height="1" fill="#2020b8"/>
<rect x="16" y="64" width="1" height="76" fill="#2424c0"/>
<rect x="20" y="91" width="60" height="1" fill="#8484f4"/>
<rect x="235" y="91" width="60" height="1" fill="#8484f4"/>
<rect x="86" y="64" width="143" height="25" fill="#b4b4b4"/>
<rect x="87" y="65" width="141" height="23" fill="#fff"/>
<rect x="87" y="65" width="23" height="23" fill="url(#gg)"/>
<rect x="205" y="65" width="23" height="23" fill="url(#gg)"/>
<rect x="87" y="65" width="23" height="1" fill="#f6f6f6"/>
<rect x="87" y="65" width="1" height="23" fill="#f2f2f2"/>
<rect x="109" y="65" width="1" height="23" fill="#ececec"/>
<rect x="87" y="87" width="23" height="1" fill="#e0e0e0"/>
<rect x="205" y="65" width="23" height="1" fill="#f6f6f6"/>
<rect x="205" y="65" width="1" height="23" fill="#f2f2f2"/>
<rect x="227" y="65" width="1" height="23" fill="#ececec"/>
<rect x="205" y="87" width="23" height="1" fill="#e0e0e0"/>
<rect x="110" y="65" width="1" height="23" fill="#b4b4b4"/>
<rect x="204" y="65" width="1" height="23" fill="#b4b4b4"/>
</g>
<path d="M94.6 75 L102 75 L98.3 79.5 Z" fill="#4a62b8"/><path d="M212.6 78.2 L220 78.2 L216.3 73.8 Z" fill="#4a62b8"/>
<text x="32.9" y="82.9" font-size="15.7" fill="#fff" textLength="33.6" lengthAdjust="spacingAndGlyphs">SELL</text>
<text x="249.3" y="82.9" font-size="15.7" fill="#fff" textLength="30.1" lengthAdjust="spacingAndGlyphs">BUY</text>
<text x="170.2" y="82.3" font-size="15.7" fill="#000" textLength="30.7" lengthAdjust="spacingAndGlyphs">1.00</text>
<text x="36.7" y="128.3" font-size="14.4" fill="#fff" textLength="36.1" lengthAdjust="spacingAndGlyphs" font-weight="bold">2737</text>
<text x="178.9" y="128.3" font-size="14.4" fill="#fff" textLength="36.6" lengthAdjust="spacingAndGlyphs" font-weight="bold">2738</text>
<text x="74.8" y="128.3" font-size="40.7" fill="#fff" textLength="47.0" lengthAdjust="spacingAndGlyphs">48</text>
<text x="219.8" y="128.3" font-size="40.7" fill="#fff" textLength="45.0" lengthAdjust="spacingAndGlyphs">26</text>
<text x="126.1" y="110.6" font-size="14.1" fill="#fff" textLength="9.4" lengthAdjust="spacingAndGlyphs" font-weight="bold">5</text>
<text x="269.2" y="110.6" font-size="14.1" fill="#fff" textLength="9.3" lengthAdjust="spacingAndGlyphs" font-weight="bold">5</text>
<text x="1144.7" y="478.5" font-size="51" fill="#ff2010" stroke="#ff2010" stroke-width="0.35" textLength="368" lengthAdjust="spacingAndGlyphs" style="font-family:'Liberation Sans','Noto Sans CJK SC',sans-serif">多空转折点2720</text>
<clipPath id="c2"><rect x="13" y="541" width="1619" height="61"/></clipPath><g clip-path="url(#c2)">
<g shape-rendering="crispEdges">
<rect x="13" y="554" width="1" height="37" fill="#c0c0c0"/>
<rect x="21" y="556" width="1" height="35" fill="#c0c0c0"/>
<rect x="29" y="556" width="1" height="35" fill="#c0c0c0"/>
<rect x="37" y="556" width="1" height="35" fill="#c0c0c0"/>
<rect x="45" y="556" width="1" height="35" fill="#c0c0c0"/>
<rect x="53" y="555" width="1" height="36" fill="#c0c0c0"/>
<rect x="61" y="556" width="1" height="35" fill="#c0c0c0"/>
<rect x="69" y="557" width="1" height="34" fill="#c0c0c0"/>
<rect x="77" y="560" width="1" height="31" fill="#c0c0c0"/>
<rect x="85" y="560" width="1" height="31" fill="#c0c0c0"/>
<rect x="93" y="562" width="1" height="29" fill="#c0c0c0"/>
<rect x="101" y="566" width="1" height="25" fill="#c0c0c0"/>
<rect x="109" y="570" width="1" height="21" fill="#c0c0c0"/>
<rect x="117" y="573" width="1" height="18" fill="#c0c0c0"/>
<rect x="125" y="574" width="1" height="17" fill="#c0c0c0"/>
<rect x="133" y="574" width="1" height="17" fill="#c0c0c0"/>
<rect x="141" y="576" width="1" height="15" fill="#c0c0c0"/>
<rect x="149" y="575" width="1" height="16" fill="#c0c0c0"/>
<rect x="157" y="574" width="1" height="17" fill="#c0c0c0"/>
<rect x="165" y="575" width="1" height="16" fill="#c0c0c0"/>
<rect x="173" y="574" width="1" height="17" fill="#c0c0c0"/>
<rect x="181" y="573" width="1" height="18" fill="#c0c0c0"/>
<rect x="189" y="571" width="1" height="20" fill="#c0c0c0"/>
<rect x="197" y="570" width="1" height="21" fill="#c0c0c0"/>
<rect x="205" y="568" width="1" height="23" fill="#c0c0c0"/>
<rect x="213" y="568" width="1" height="23" fill="#c0c0c0"/>
<rect x="221" y="566" width="1" height="25" fill="#c0c0c0"/>
<rect x="229" y="565" width="1" height="26" fill="#c0c0c0"/>
<rect x="237" y="565" width="1" height="26" fill="#c0c0c0"/>
<rect x="245" y="567" width="1" height="24" fill="#c0c0c0"/>
<rect x="253" y="570" width="1" height="21" fill="#c0c0c0"/>
<rect x="261" y="572" width="1" height="19" fill="#c0c0c0"/>
<rect x="269" y="572" width="1" height="19" fill="#c0c0c0"/>
<rect x="277" y="569" width="1" height="22" fill="#c0c0c0"/>
<rect x="285" y="567" width="1" height="24" fill="#c0c0c0"/>
<rect x="293" y="564" width="1" height="27" fill="#c0c0c0"/>
<rect x="301" y="563" width="1" height="28" fill="#c0c0c0"/>
<rect x="309" y="561" width="1" height="30" fill="#c0c0c0"/>
<rect x="317" y="557" width="1" height="34" fill="#c0c0c0"/>
<rect x="325" y="553" width="1" height="38" fill="#c0c0c0"/>
<rect x="333" y="550" width="1" height="41" fill="#c0c0c0"/>
<rect x="341" y="549" width="1" height="42" fill="#c0c0c0"/>
<rect x="349" y="548" width="1" height="43" fill="#c0c0c0"/>
<rect x="357" y="549" width="1" height="42" fill="#c0c0c0"/>
<rect x="365" y="550" width="1" height="41" fill="#c0c0c0"/>
<rect x="373" y="552" width="1" height="39" fill="#c0c0c0"/>
<rect x="381" y="553" width="1" height="38" fill="#c0c0c0"/>
<rect x="389" y="555" width="1" height="36" fill="#c0c0c0"/>
<rect x="397" y="558" width="1" height="33" fill="#c0c0c0"/>
<rect x="405" y="561" width="1" height="30" fill="#c0c0c0"/>
<rect x="413" y="564" width="1" height="27" fill="#c0c0c0"/>
<rect x="421" y="567" width="1" height="24" fill="#c0c0c0"/>
<rect x="429" y="573" width="1" height="18" fill="#c0c0c0"/>
<rect x="437" y="578" width="1" height="13" fill="#c0c0c0"/>
<rect x="445" y="581" width="1" height="10" fill="#c0c0c0"/>
<rect x="453" y="583" width="1" height="8" fill="#c0c0c0"/>
<rect x="461" y="585" width="1" height="6" fill="#c0c0c0"/>
<rect x="469" y="586" width="1" height="5" fill="#c0c0c0"/>
<rect x="477" y="589" width="1" height="2" fill="#c0c0c0"/>
<rect x="485" y="590" width="1" height="1" fill="#c0c0c0"/>
<rect x="493" y="590" width="1" height="1" fill="#c0c0c0"/>
<rect x="501" y="590" width="1" height="2" fill="#c0c0c0"/>
<rect x="509" y="590" width="1" height="1" fill="#c0c0c0"/>
<rect x="517" y="590" width="1" height="1" fill="#c0c0c0"/>
<rect x="525" y="590" width="1" height="2" fill="#c0c0c0"/>
<rect x="533" y="590" width="1" height="2" fill="#c0c0c0"/>
<rect x="541" y="590" width="1" height="1" fill="#c0c0c0"/>
<rect x="549" y="588" width="1" height="3" fill="#c0c0c0"/>
<rect x="557" y="586" width="1" height="5" fill="#c0c0c0"/>
<rect x="565" y="583" width="1" height="8" fill="#c0c0c0"/>
<rect x="573" y="580" width="1" height="11" fill="#c0c0c0"/>
<rect x="581" y="579" width="1" height="12" fill="#c0c0c0"/>
<rect x="589" y="578" width="1" height="13" fill="#c0c0c0"/>
<rect x="597" y="578" width="1" height="13" fill="#c0c0c0"/>
<rect x="605" y="579" width="1" height="12" fill="#c0c0c0"/>
<rect x="613" y="581" width="1" height="10" fill="#c0c0c0"/>
<rect x="621" y="584" width="1" height="7" fill="#c0c0c0"/>
<rect x="629" y="587" width="1" height="4" fill="#c0c0c0"/>
<rect x="637" y="589" width="1" height="2" fill="#c0c0c0"/>
<rect x="645" y="590" width="1" height="1" fill="#c0c0c0"/>
<rect x="653" y="590" width="1" height="3" fill="#c0c0c0"/>
<rect x="661" y="590" width="1" height="3" fill="#c0c0c0"/>
<rect x="669" y="590" width="1" height="4" fill="#c0c0c0"/>
<rect x="677" y="590" width="1" height="5" fill="#c0c0c0"/>
<rect x="685" y="590" width="1" height="4" fill="#c0c0c0"/>
<rect x="693" y="590" width="1" height="3" fill="#c0c0c0"/>
<rect x="701" y="590" width="1" height="1" fill="#c0c0c0"/>
<rect x="709" y="590" width="1" height="1" fill="#c0c0c0"/>
<rect x="717" y="590" width="1" height="1" fill="#c0c0c0"/>
<rect x="725" y="584" width="1" height="7" fill="#c0c0c0"/>
<rect x="733" y="579" width="1" height="12" fill="#c0c0c0"/>
<rect x="741" y="574" width="1" height="17" fill="#c0c0c0"/>
<rect x="749" y="571" width="1" height="20" fill="#c0c0c0"/>
<rect x="757" y="568" width="1" height="23" fill="#c0c0c0"/>
<rect x="765" y="566" width="1" height="25" fill="#c0c0c0"/>
<rect x="773" y="563" width="1" height="28" fill="#c0c0c0"/>
<rect x="781" y="560" width="1" height="31" fill="#c0c0c0"/>
<rect x="789" y="558" width="1" height="33" fill="#c0c0c0"/>
<rect x="797" y="557" width="1" height="34" fill="#c0c0c0"/>
<rect x="805" y="557" width="1" height="34" fill="#c0c0c0"/>
<rect x="813" y="556" width="1" height="35" fill="#c0c0c0"/>
<rect x="821" y="557" width="1" height="34" fill="#c0c0c0"/>
<rect x="829" y="558" width="1" height="33" fill="#c0c0c0"/>
<rect x="837" y="559" width="1" height="32" fill="#c0c0c0"/>
<rect x="845" y="560" width="1" height="31" fill="#c0c0c0"/>
<rect x="853" y="561" width="1" height="30" fill="#c0c0c0"/>
<rect x="861" y="563" width="1" height="28" fill="#c0c0c0"/>
<rect x="869" y="564" width="1" height="27" fill="#c0c0c0"/>
<rect x="877" y="563" width="1" height="28" fill="#c0c0c0"/>
<rect x="885" y="562" width="1" height="29" fill="#c0c0c0"/>
<rect x="893" y="562" width="1" height="29" fill="#c0c0c0"/>
<rect x="901" y="561" width="1" height="30" fill="#c0c0c0"/>
<rect x="909" y="561" width="1" height="30" fill="#c0c0c0"/>
<rect x="917" y="560" width="1" height="31" fill="#c0c0c0"/>
<rect x="925" y="560" width="1" height="31" fill="#c0c0c0"/>
<rect x="933" y="559" width="1" height="32" fill="#c0c0c0"/>
<rect x="941" y="559" width="1" height="32" fill="#c0c0c0"/>
<rect x="949" y="560" width="1" height="31" fill="#c0c0c0"/>
<rect x="957" y="562" width="1" height="29" fill="#c0c0c0"/>
<rect x="965" y="563" width="1" height="28" fill="#c0c0c0"/>
<rect x="973" y="564" width="1" height="27" fill="#c0c0c0"/>
<rect x="981" y="565" width="1" height="26" fill="#c0c0c0"/>
<rect x="989" y="567" width="1" height="24" fill="#c0c0c0"/>
<rect x="997" y="570" width="1" height="21" fill="#c0c0c0"/>
<rect x="1005" y="573" width="1" height="18" fill="#c0c0c0"/>
<rect x="1013" y="578" width="1" height="13" fill="#c0c0c0"/>
<rect x="1021" y="583" width="1" height="8" fill="#c0c0c0"/>
<rect x="1029" y="587" width="1" height="4" fill="#c0c0c0"/>
<rect x="1037" y="590" width="1" height="1" fill="#c0c0c0"/>
<rect x="1045" y="590" width="1" height="4" fill="#c0c0c0"/>
<rect x="1053" y="590" width="1" height="6" fill="#c0c0c0"/>
<rect x="1061" y="590" width="1" height="9" fill="#c0c0c0"/>
<rect x="1069" y="590" width="1" height="10" fill="#c0c0c0"/>
<rect x="1077" y="590" width="1" height="8" fill="#c0c0c0"/>
<rect x="1085" y="590" width="1" height="7" fill="#c0c0c0"/>
<rect x="1093" y="590" width="1" height="5" fill="#c0c0c0"/>
<rect x="1101" y="590" width="1" height="5" fill="#c0c0c0"/>
<rect x="1109" y="590" width="1" height="3" fill="#c0c0c0"/>
<rect x="1117" y="590" width="1" height="1" fill="#c0c0c0"/>
<rect x="1125" y="590" width="1" height="1" fill="#c0c0c0"/>
<rect x="1133" y="590" width="1" height="1" fill="#c0c0c0"/>
<rect x="1141" y="589" width="1" height="2" fill="#c0c0c0"/>
<rect x="1149" y="587" width="1" height="4" fill="#c0c0c0"/>
<rect x="1157" y="584" width="1" height="7" fill="#c0c0c0"/>
<rect x="1165" y="581" width="1" height="10" fill="#c0c0c0"/>
<rect x="1173" y="577" width="1" height="14" fill="#c0c0c0"/>
<rect x="1181" y="574" width="1" height="17" fill="#c0c0c0"/>
<rect x="1189" y="570" width="1" height="21" fill="#c0c0c0"/>
<rect x="1197" y="568" width="1" height="23" fill="#c0c0c0"/>
<rect x="1205" y="566" width="1" height="25" fill="#c0c0c0"/>
<rect x="1213" y="565" width="1" height="26" fill="#c0c0c0"/>
<rect x="1221" y="564" width="1" height="27" fill="#c0c0c0"/>
<rect x="1229" y="564" width="1" height="27" fill="#c0c0c0"/>
<rect x="1237" y="564" width="1" height="27" fill="#c0c0c0"/>
<rect x="1245" y="565" width="1" height="26" fill="#c0c0c0"/>
<rect x="1253" y="565" width="1" height="26" fill="#c0c0c0"/>
<rect x="1261" y="567" width="1" height="24" fill="#c0c0c0"/>
<rect x="1269" y="568" width="1" height="23" fill="#c0c0c0"/>
<rect x="1277" y="570" width="1" height="21" fill="#c0c0c0"/>
<rect x="1285" y="573" width="1" height="18" fill="#c0c0c0"/>
<rect x="1293" y="575" width="1" height="16" fill="#c0c0c0"/>
</g>
<path d="M13.0 545.0 L30.0 549.0 L50.0 552.0 L70.0 555.0 L90.0 557.0 L114.0 560.0 L130.0 564.0 L150.0 569.0 L170.0 573.0 L186.0 573.0 L210.0 571.0 L230.0 568.4 L250.0 567.4 L290.0 567.4 L310.0 566.0 L326.0 563.0 L350.0 556.4 L358.0 554.0 L370.0 551.6 L386.0 550.6 L410.0 552.4 L426.0 557.0 L446.0 564.0 L462.0 571.6 L478.0 578.0 L494.0 583.7 L510.0 586.7 L530.0 589.0 L550.0 589.7 L560.0 589.0 L570.0 587.7 L590.0 584.5 L610.0 580.7 L630.0 580.5 L650.0 582.5 L670.0 587.7 L690.0 591.0 L710.0 593.0 L730.0 591.0 L750.0 585.7 L770.0 577.0 L790.0 568.0 L806.0 563.6 L822.0 559.0 L838.0 557.4 L858.0 557.4 L870.0 559.4 L890.0 561.0 L910.0 561.4 L940.0 560.4 L982.0 560.4 L998.0 562.0 L1010.0 565.0 L1033.0 572.4 L1050.0 580.0 L1070.0 588.0 L1078.0 591.7 L1100.0 595.0 L1114.0 596.5 L1134.0 594.5 L1154.0 591.0 L1170.0 587.7 L1190.0 582.5 L1202.0 577.0 L1214.0 574.4 L1226.0 570.0 L1238.0 567.6 L1246.0 564.6 L1280.0 564.4 L1290.0 566.0 L1293.0 568.0" fill="none" stroke="#ff0000" stroke-width="1" stroke-dasharray="3 3" shape-rendering="crispEdges"/>
</g>
<text x="17.1" y="555.6" font-size="12.9" fill="#000" textLength="31.7" lengthAdjust="spacingAndGlyphs">MACD</text>
<text x="48.9" y="555.6" font-size="12.9" fill="#000" textLength="53.3" lengthAdjust="spacingAndGlyphs">(12,26,9)</text>
<text x="105.2" y="555.6" font-size="12.9" fill="#000" textLength="39.8" lengthAdjust="spacingAndGlyphs">7.2804</text>
<text x="148.9" y="555.6" font-size="12.9" fill="#000" textLength="46.6" lengthAdjust="spacingAndGlyphs">10.8776</text>
<text x="1635.5" y="553.8" font-size="12.9" fill="#000" textLength="47.2" lengthAdjust="spacingAndGlyphs">22.5986</text>
<text x="1635.9" y="594.4" font-size="12.9" fill="#000" textLength="25.1" lengthAdjust="spacingAndGlyphs">0.00</text>
<text x="1635.3" y="598.9" font-size="12.9" fill="#000" textLength="44.2" lengthAdjust="spacingAndGlyphs">-5.3778</text>
<g shape-rendering="crispEdges">
<rect x="1633" y="590" width="2" height="1" fill="#000"/>
<rect x="1633" y="542" width="1" height="1" fill="#000"/>
<rect x="1633" y="601" width="1" height="1" fill="#000"/>
<rect x="1633" y="606" width="1" height="1" fill="#000"/>
<rect x="1633" y="732" width="1" height="1" fill="#000"/>
</g>
<g shape-rendering="crispEdges">
<line x1="14" x2="1632" y1="644.5" y2="644.5" stroke="#c0c0c0" stroke-width="1" stroke-dasharray="3 3"/>
<line x1="14" x2="1632" y1="694.5" y2="694.5" stroke="#c0c0c0" stroke-width="1" stroke-dasharray="3 3"/>
</g>
<path d="M13.0 661.1 L21.0 655.0 L29.0 651.7 L37.0 650.5 L45.0 650.5 L53.0 649.7 L61.0 652.0 L69.0 653.0 L77.0 653.0 L85.0 650.5 L93.0 660.5 L101.0 666.0 L109.0 668.5 L117.0 668.5 L125.0 660.0 L133.0 658.5 L141.0 662.0 L149.0 654.5 L157.0 656.0 L165.0 665.0 L173.0 654.5 L181.0 654.0 L189.0 650.7 L197.0 651.5 L205.0 649.7 L213.0 653.0 L221.0 649.0 L229.0 647.5 L237.0 656.0 L245.0 660.0 L253.0 666.0 L261.0 662.0 L269.0 655.0 L277.0 648.7 L285.0 647.5 L293.0 644.5 L301.0 646.0 L309.0 643.5 L317.0 637.6 L325.0 636.0 L333.0 634.4 L341.0 638.0 L349.0 642.0 L357.0 642.0 L365.0 645.0 L373.0 648.0 L381.0 646.0 L389.0 646.0 L397.0 658.0 L405.0 658.0 L413.0 658.0 L421.0 667.0 L429.0 683.7 L437.0 676.0 L445.0 670.5 L453.0 675.0 L461.0 668.0 L469.0 672.0 L477.0 676.0 L485.0 672.5 L493.0 670.5 L501.0 669.0 L509.0 666.0 L517.0 667.5 L525.0 670.5 L533.0 669.0 L541.0 659.4 L549.0 659.0 L557.0 657.0 L565.0 646.4 L573.0 651.0 L581.0 653.0 L589.0 658.0 L597.0 659.4 L605.0 663.0 L613.0 666.5 L621.0 682.5 L629.0 674.0 L637.0 677.5 L645.0 679.5 L653.0 677.5 L661.0 670.5 L669.0 678.5 L677.0 676.5 L685.0 667.5 L693.0 667.5 L701.0 671.5 L709.0 664.5 L717.0 661.5 L725.0 643.4 L733.0 644.4 L741.0 643.4 L749.0 646.4 L757.0 647.6 L765.0 644.4 L773.0 641.4 L781.0 639.4 L789.0 639.4 L797.0 638.4 L805.0 644.4 L813.0 642.4 L821.0 650.4 L829.0 647.4 L837.0 649.4 L845.0 647.4 L853.0 651.4 L861.0 650.4 L869.0 649.4 L877.0 641.4 L885.0 640.4 L893.0 643.4 L901.0 642.4 L909.0 638.4 L917.0 633.4 L925.0 636.4 L933.0 640.4 L941.0 639.4 L949.0 648.4 L957.0 647.4 L965.0 643.4 L973.0 650.4 L981.0 651.6 L989.0 657.4 L997.0 662.0 L1005.0 672.0 L1013.0 682.0 L1021.0 686.5 L1029.0 683.5 L1037.0 687.5 L1045.0 687.5 L1053.0 690.5 L1061.0 692.5 L1069.0 677.0 L1077.0 668.5 L1085.0 668.5 L1093.0 670.5 L1101.0 668.5 L1109.0 661.5 L1117.0 666.0 L1125.0 670.0 L1133.0 666.0 L1141.0 653.4 L1149.0 653.4 L1157.0 650.4 L1165.0 644.4 L1173.0 640.4 L1181.0 639.4 L1189.0 636.4 L1197.0 637.4 L1205.0 639.4 L1213.0 636.4 L1221.0 638.4 L1229.0 647.4 L1237.0 644.4 L1245.0 641.0 L1253.0 645.4 L1261.0 664.0 L1269.0 658.4 L1277.0 664.5 L1285.0 665.5 L1293.0 668.5" fill="none" stroke="#1e90ff" stroke-width="1" shape-rendering="crispEdges"/>
<text x="16.3" y="620" font-size="12.9" fill="#000" textLength="42.0" lengthAdjust="spacingAndGlyphs">RSI(14)</text>
<text x="61.6" y="620" font-size="12.9" fill="#000" textLength="47.2" lengthAdjust="spacingAndGlyphs">49.9377</text>
<text x="1636.2" y="618" font-size="12.9" fill="#000" textLength="20.1" lengthAdjust="spacingAndGlyphs">100</text>
<text x="1634.5" y="649" font-size="12.9" fill="#000" textLength="15.1" lengthAdjust="spacingAndGlyphs">70</text>
<text x="1634.5" y="699" font-size="12.9" fill="#000" textLength="15.1" lengthAdjust="spacingAndGlyphs">30</text>
<text x="1635.7" y="730" font-size="12.9" fill="#000" textLength="7.8" lengthAdjust="spacingAndGlyphs">0</text>
<g shape-rendering="crispEdges">
<rect x="13" y="734" width="1" height="3" fill="#000"/>
<rect x="109" y="734" width="1" height="3" fill="#000"/>
<rect x="205" y="734" width="1" height="3" fill="#000"/>
<rect x="301" y="734" width="1" height="3" fill="#000"/>
<rect x="397" y="734" width="1" height="3" fill="#000"/>
<rect x="493" y="734" width="1" height="3" fill="#000"/>
<rect x="589" y="734" width="1" height="3" fill="#000"/>
<rect x="685" y="734" width="1" height="3" fill="#000"/>
<rect x="781" y="734" width="1" height="3" fill="#000"/>
<rect x="877" y="734" width="1" height="3" fill="#000"/>
<rect x="973" y="734" width="1" height="3" fill="#000"/>
<rect x="1069" y="734" width="1" height="3" fill="#000"/>
<rect x="1165" y="734" width="1" height="3" fill="#000"/>
<rect x="1261" y="734" width="1" height="3" fill="#000"/>
</g>
<text x="12.3" y="749.1" font-size="12.9" fill="#000" textLength="13.8" lengthAdjust="spacingAndGlyphs">10</text>
<text x="29.3" y="749.1" font-size="12.9" fill="#000" textLength="17.4" lengthAdjust="spacingAndGlyphs">Jan</text>
<text x="51.9" y="749.1" font-size="12.9" fill="#000" textLength="29.0" lengthAdjust="spacingAndGlyphs">2019</text>
<text x="108.3" y="749.1" font-size="12.9" fill="#000" textLength="13.8" lengthAdjust="spacingAndGlyphs">14</text>
<text x="125.3" y="749.1" font-size="12.9" fill="#000" textLength="17.4" lengthAdjust="spacingAndGlyphs">Jan</text>
<text x="147.9" y="749.1" font-size="12.9" fill="#000" textLength="31.9" lengthAdjust="spacingAndGlyphs">04:00</text>
<text x="204.3" y="749.1" font-size="12.9" fill="#000" textLength="13.8" lengthAdjust="spacingAndGlyphs">16</text>
<text x="221.3" y="749.1" font-size="12.9" fill="#000" textLength="17.4" lengthAdjust="spacingAndGlyphs">Jan</text>
<text x="243.9" y="749.1" font-size="12.9" fill="#000" textLength="31.9" lengthAdjust="spacingAndGlyphs">04:00</text>
<text x="300.3" y="749.1" font-size="12.9" fill="#000" textLength="13.8" lengthAdjust="spacingAndGlyphs">18</text>
<text x="317.3" y="749.1" font-size="12.9" fill="#000" textLength="17.4" lengthAdjust="spacingAndGlyphs">Jan</text>
<text x="339.9" y="749.1" font-size="12.9" fill="#000" textLength="31.9" lengthAdjust="spacingAndGlyphs">04:00</text>
<text x="396.3" y="749.1" font-size="12.9" fill="#000" textLength="13.8" lengthAdjust="spacingAndGlyphs">22</text>
<text x="413.3" y="749.1" font-size="12.9" fill="#000" textLength="17.4" lengthAdjust="spacingAndGlyphs">Jan</text>
<text x="435.9" y="749.1" font-size="12.9" fill="#000" textLength="31.9" lengthAdjust="spacingAndGlyphs">00:00</text>
<text x="492.3" y="749.1" font-size="12.9" fill="#000" textLength="13.8" lengthAdjust="spacingAndGlyphs">24</text>
<text x="509.3" y="749.1" font-size="12.9" fill="#000" textLength="17.4" lengthAdjust="spacingAndGlyphs">Jan</text>
<text x="531.9" y="749.1" font-size="12.9" fill="#000" textLength="31.9" lengthAdjust="spacingAndGlyphs">00:00</text>
<text x="588.3" y="749.1" font-size="12.9" fill="#000" textLength="13.8" lengthAdjust="spacingAndGlyphs">27</text>
<text x="605.3" y="749.1" font-size="12.9" fill="#000" textLength="17.4" lengthAdjust="spacingAndGlyphs">Jan</text>
<text x="627.9" y="749.1" font-size="12.9" fill="#000" textLength="31.9" lengthAdjust="spacingAndGlyphs">23:00</text>
<text x="684.3" y="749.1" font-size="12.9" fill="#000" textLength="13.8" lengthAdjust="spacingAndGlyphs">29</text>
<text x="701.3" y="749.1" font-size="12.9" fill="#000" textLength="17.4" lengthAdjust="spacingAndGlyphs">Jan</text>
<text x="723.9" y="749.1" font-size="12.9" fill="#000" textLength="31.9" lengthAdjust="spacingAndGlyphs">20:00</text>
<text x="780.3" y="749.1" font-size="12.9" fill="#000" textLength="13.8" lengthAdjust="spacingAndGlyphs">31</text>
<text x="797.3" y="749.1" font-size="12.9" fill="#000" textLength="17.4" lengthAdjust="spacingAndGlyphs">Jan</text>
<text x="819.9" y="749.1" font-size="12.9" fill="#000" textLength="31.9" lengthAdjust="spacingAndGlyphs">20:00</text>
<text x="876.4" y="749.1" font-size="12.9" fill="#000">4</text>
<text x="887.4" y="749.1" font-size="12.9" fill="#000" textLength="19.0" lengthAdjust="spacingAndGlyphs">Feb</text>
<text x="911.3" y="749.1" font-size="12.9" fill="#000" textLength="31.7" lengthAdjust="spacingAndGlyphs">16:00</text>
<text x="972.4" y="749.1" font-size="12.9" fill="#000">6</text>
<text x="983.4" y="749.1" font-size="12.9" fill="#000" textLength="19.0" lengthAdjust="spacingAndGlyphs">Feb</text>
<text x="1007.3" y="749.1" font-size="12.9" fill="#000" textLength="31.7" lengthAdjust="spacingAndGlyphs">16:00</text>
<text x="1068.4" y="749.1" font-size="12.9" fill="#000">8</text>
<text x="1079.4" y="749.1" font-size="12.9" fill="#000" textLength="19.0" lengthAdjust="spacingAndGlyphs">Feb</text>
<text x="1103.3" y="749.1" font-size="12.9" fill="#000" textLength="31.7" lengthAdjust="spacingAndGlyphs">16:00</text>
<text x="1164.0" y="749.1" font-size="12.9" fill="#000" textLength="14.4" lengthAdjust="spacingAndGlyphs">12</text>
<text x="1182.3" y="749.1" font-size="12.9" fill="#000" textLength="19.1" lengthAdjust="spacingAndGlyphs">Feb</text>
<text x="1206.6" y="749.1" font-size="12.9" fill="#000" textLength="31.5" lengthAdjust="spacingAndGlyphs">12:00</text>
<text x="1260.0" y="749.1" font-size="12.9" fill="#000" textLength="14.4" lengthAdjust="spacingAndGlyphs">14</text>
<text x="1278.3" y="749.1" font-size="12.9" fill="#000" textLength="19.1" lengthAdjust="spacingAndGlyphs">Feb</text>
<text x="1302.6" y="749.1" font-size="12.9" fill="#000" textLength="31.5" lengthAdjust="spacingAndGlyphs">12:00</text>
</svg>
</body></html>
